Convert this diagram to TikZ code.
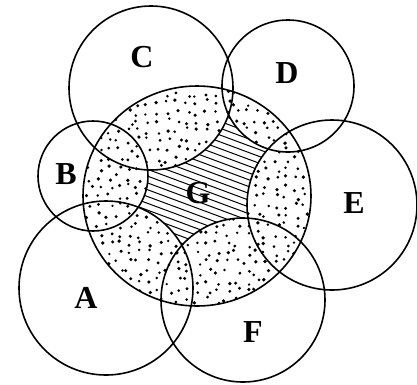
\documentclass[tikz,border=0pt]{standalone}
\usepackage{fontspec}
\setmainfont{Liberation Serif}
\begin{document}
\begin{tikzpicture}[x=1pt,y=-1pt,
  ring/.style={line width=1.6pt},
  hatchline/.style={line width=1pt},
  lbl/.style={font=\fontsize{32}{32}\selectfont\bfseries, inner sep=0pt}]
\useasboundingbox (0,0) rectangle (417,384);
% shading inside G
\begin{scope}
  \clip (197,196) ellipse [x radius=114, y radius=110];
  \foreach \c in {-40,-33.2,...,320} {
    \draw[hatchline] (60,\c) -- (340,\c+104);
  }
  \begin{scope}
    \clip (106,288) circle [radius=87]
          (93,176) circle [radius=55]
          (151,88) circle [radius=82]
          (288,86) circle [radius=66]
          (332,205) circle [radius=85]
          (243,300) circle [radius=82];
    \fill[white] (80,80) rectangle (320,310);
    \pgfmathsetseed{11}
    \foreach \i in {0,...,24} {
      \foreach \j in {0,...,24} {
        \pgfmathsetmacro\px{80+\i*9.8+7*rnd-3.5}
        \pgfmathsetmacro\py{84+\j*9.4+7*rnd-3.5}
        \pgfmathsetmacro\pr{1.3+0.6*rnd}
        \fill (\px,\py) circle [radius=\pr];
      }
    }
  \end{scope}
\end{scope}
% circles
\draw[ring] (197,196) ellipse [x radius=114, y radius=110];
\draw[ring] (106,288) circle [radius=87];
\draw[ring] (93,176) circle [radius=55];
\draw[ring] (151,88) circle [radius=82];
\draw[ring] (288,86) circle [radius=66];
\draw[ring] (332,205) circle [radius=85];
\draw[ring] (243,300) circle [radius=82];
% labels
\node[lbl] (lC) at (142,57) {C};
\node[lbl] (lD) at (287,73) {D};
\node[lbl] (lB) at (66,174) {B};
\node[lbl] (lG) at (198,193) {G};
\node[lbl] (lE) at (354,203) {E};
\node[lbl] (lA) at (86,298) {A};
\node[lbl] (lF) at (253,332) {F};
\end{tikzpicture}
\end{document}
